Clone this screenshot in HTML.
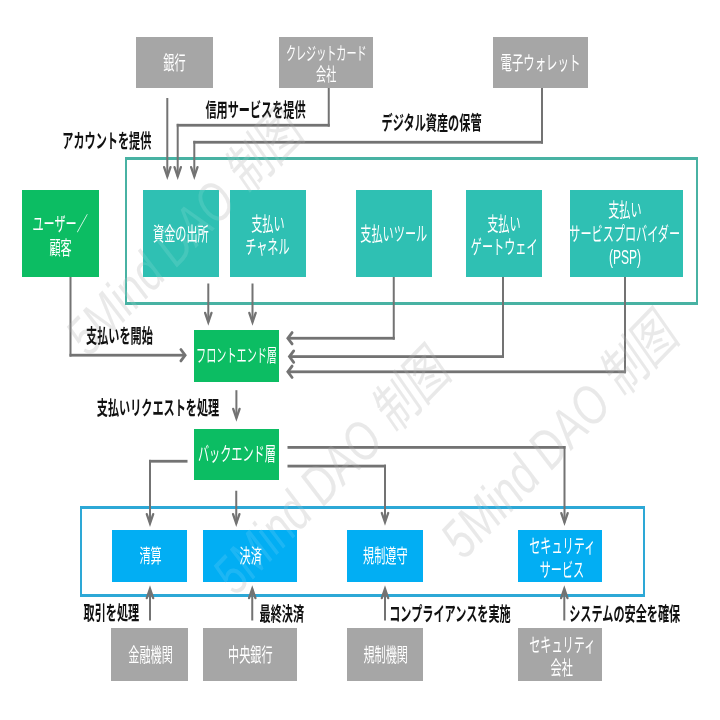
<!DOCTYPE html>
<html lang="ja"><head><meta charset="utf-8"><title>決済システム構成図</title>
<style>
html,body{margin:0;padding:0;background:#fff}
body{width:720px;height:720px;position:relative;overflow:hidden;font-family:"Liberation Sans",sans-serif;filter:blur(0.45px)}
.bx{position:absolute;display:flex;align-items:center;justify-content:center;text-align:center}
.bx span,.lb{color:transparent;font-size:11px;line-height:23px;white-space:nowrap}
.lb{position:absolute;font-weight:bold}
.wm{position:absolute;color:transparent;font-size:12px;font-style:italic;white-space:nowrap;transform:rotate(-46deg)}
.ct{position:absolute;border-style:solid;box-sizing:content-box}
svg{position:absolute;left:0;top:0}
svg text{font-family:"Liberation Sans","Noto Sans CJK JP",sans-serif}
svg text.wmt{font-family:"Liberation Sans","Noto Sans CJK SC",sans-serif;font-style:italic}
</style></head><body>
<svg width="720" height="720" viewBox="0 0 720 720">
<defs>
<g id="wmk"><text class="wmt" transform="translate(88.69 358.10) rotate(-45.75) scale(0.764 1)" font-size="54.6">5Mind DAO 制图</text><text class="wmt" transform="translate(235.69 597.10) rotate(-45.75) scale(0.764 1)" font-size="54.6">5Mind DAO 制图</text><text class="wmt" transform="translate(463.69 561.10) rotate(-45.75) scale(0.764 1)" font-size="54.6">5Mind DAO 制图</text></g>
</defs>
<use href="#wmk" fill="#000" fill-opacity="0.095"/>
</svg>
<div class="ct" style="left:124.75px;top:157.00px;width:568.75px;height:142.25px;border-color:#48b2a3;border-width:3.50px 2.50px"></div>
<div class="ct" style="left:80.00px;top:505.75px;width:560.50px;height:85.60px;border-color:#2da8d6;border-width:3.50px 2.50px"></div>
<div class="bx" style="left:136.25px;top:37.00px;width:76.25px;height:51.00px;background:#a6a6a6"><span>銀行</span></div>
<div class="bx" style="left:278.75px;top:37.00px;width:94.25px;height:51.00px;background:#a6a6a6"><span>クレジットカード<br>会社</span></div>
<div class="bx" style="left:493.25px;top:37.00px;width:94.75px;height:51.00px;background:#a6a6a6"><span>電子ウォレット</span></div>
<div class="bx" style="left:22.30px;top:190.00px;width:76.50px;height:87.00px;background:#0cbd63"><span>ユーザー／<br>顧客</span></div>
<div class="bx" style="left:143.10px;top:190.00px;width:75.80px;height:87.00px;background:#2fc0b3"><span>資金の出所</span></div>
<div class="bx" style="left:230.00px;top:190.00px;width:75.50px;height:87.00px;background:#2fc0b3"><span>支払い<br>チャネル</span></div>
<div class="bx" style="left:355.50px;top:190.00px;width:76.50px;height:87.00px;background:#2fc0b3"><span>支払いツール</span></div>
<div class="bx" style="left:466.00px;top:190.00px;width:75.50px;height:87.00px;background:#2fc0b3"><span>支払い<br>ゲートウェイ</span></div>
<div class="bx" style="left:569.50px;top:190.00px;width:113.10px;height:87.00px;background:#2fc0b3"><span>支払い<br>サービスプロバイダー<br>(PSP)</span></div>
<div class="bx" style="left:193.75px;top:329.50px;width:84.75px;height:52.25px;background:#0cbd63"><span>フロントエンド層</span></div>
<div class="bx" style="left:193.75px;top:428.60px;width:84.75px;height:51.70px;background:#0cbd63"><span>バックエンド層</span></div>
<div class="bx" style="left:111.50px;top:529.50px;width:75.60px;height:52.00px;background:#02aef3"><span>清算</span></div>
<div class="bx" style="left:203.00px;top:529.50px;width:94.00px;height:52.00px;background:#02aef3"><span>決済</span></div>
<div class="bx" style="left:347.00px;top:529.50px;width:75.50px;height:52.00px;background:#02aef3"><span>規制遵守</span></div>
<div class="bx" style="left:517.60px;top:529.50px;width:84.40px;height:52.00px;background:#02aef3"><span>セキュリティ<br>サービス</span></div>
<div class="bx" style="left:111.25px;top:628.00px;width:76.25px;height:52.50px;background:#a6a6a6"><span>金融機関</span></div>
<div class="bx" style="left:203.00px;top:628.00px;width:94.00px;height:52.50px;background:#a6a6a6"><span>中央銀行</span></div>
<div class="bx" style="left:347.00px;top:628.00px;width:76.00px;height:52.50px;background:#a6a6a6"><span>規制機関</span></div>
<div class="bx" style="left:517.50px;top:628.00px;width:84.50px;height:52.50px;background:#a6a6a6"><span>セキュリティ<br>会社</span></div>
<div class="lb" style="left:63.50px;top:128.25px">アカウントを提供</div>
<div class="lb" style="left:205.50px;top:97.70px">信用サービスを提供</div>
<div class="lb" style="left:382.30px;top:110.80px">デジタル資産の保管</div>
<div class="lb" style="left:86.25px;top:323.20px">支払いを開始</div>
<div class="lb" style="left:97.00px;top:395.75px">支払いリクエストを処理</div>
<div class="lb" style="left:83.75px;top:600.75px">取引を処理</div>
<div class="lb" style="left:260.00px;top:601.50px">最終決済</div>
<div class="lb" style="left:390.75px;top:602.00px">コンプライアンスを実施</div>
<div class="lb" style="left:570.00px;top:602.00px">システムの安全を確保</div>
<div class="wm" style="left:151px;top:214px">5Mind DAO 制图</div>
<div class="wm" style="left:291px;top:460px">5Mind DAO 制图</div>
<div class="wm" style="left:519px;top:424px">5Mind DAO 制图</div>
<svg width="720" height="720" viewBox="0 0 720 720">
<g fill="#737373"><rect x="166.30" y="98.00" width="2.00" height="78.50"/><path d="M164.10 167.20 L167.30 176.50 L170.50 167.20" fill="none" stroke="#737373" stroke-width="2.3" stroke-linejoin="miter" stroke-linecap="round"/><rect x="327.75" y="88.00" width="2.00" height="38.65"/><rect x="176.70" y="123.85" width="153.05" height="2.80"/><rect x="176.70" y="123.85" width="2.00" height="52.65"/><path d="M174.50 167.20 L177.70 176.50 L180.90 167.20" fill="none" stroke="#737373" stroke-width="2.3" stroke-linejoin="miter" stroke-linecap="round"/><rect x="541.00" y="88.00" width="2.00" height="55.65"/><rect x="193.30" y="140.85" width="349.70" height="2.80"/><rect x="193.30" y="140.85" width="2.00" height="35.65"/><path d="M191.10 167.20 L194.30 176.50 L197.50 167.20" fill="none" stroke="#737373" stroke-width="2.3" stroke-linejoin="miter" stroke-linecap="round"/><rect x="69.50" y="277.00" width="2.00" height="79.60"/><rect x="69.50" y="353.80" width="115.65" height="2.80"/><path d="M180.90 349.50 L185.15 355.20 L180.90 360.90" fill="none" stroke="#737373" stroke-width="2.8" stroke-linejoin="miter" stroke-linecap="round"/><rect x="207.30" y="283.50" width="2.00" height="38.70"/><path d="M205.10 312.90 L208.30 322.20 L211.50 312.90" fill="none" stroke="#737373" stroke-width="2.3" stroke-linejoin="miter" stroke-linecap="round"/><rect x="251.50" y="283.50" width="2.00" height="38.70"/><path d="M249.30 312.90 L252.50 322.20 L255.70 312.90" fill="none" stroke="#737373" stroke-width="2.3" stroke-linejoin="miter" stroke-linecap="round"/><rect x="392.75" y="277.00" width="2.00" height="62.65"/><rect x="287.85" y="336.85" width="106.90" height="2.80"/><path d="M292.10 332.55 L287.85 338.25 L292.10 343.95" fill="none" stroke="#737373" stroke-width="2.8" stroke-linejoin="miter" stroke-linecap="round"/><rect x="502.00" y="277.00" width="2.00" height="81.00"/><rect x="289.45" y="355.20" width="214.55" height="2.80"/><path d="M293.70 350.90 L289.45 356.60 L293.70 362.30" fill="none" stroke="#737373" stroke-width="2.8" stroke-linejoin="miter" stroke-linecap="round"/><rect x="624.00" y="277.00" width="2.00" height="96.20"/><rect x="287.85" y="370.40" width="338.15" height="2.80"/><path d="M292.10 366.10 L287.85 371.80 L292.10 377.50" fill="none" stroke="#737373" stroke-width="2.8" stroke-linejoin="miter" stroke-linecap="round"/><rect x="235.40" y="390.20" width="2.00" height="28.00"/><path d="M233.20 408.90 L236.40 418.20 L239.60 408.90" fill="none" stroke="#737373" stroke-width="2.3" stroke-linejoin="miter" stroke-linecap="round"/><rect x="149.00" y="459.85" width="38.50" height="2.80"/><rect x="149.00" y="459.85" width="2.00" height="63.65"/><path d="M146.80 514.20 L150.00 523.50 L153.20 514.20" fill="none" stroke="#737373" stroke-width="2.3" stroke-linejoin="miter" stroke-linecap="round"/><rect x="235.25" y="490.75" width="2.00" height="32.75"/><path d="M233.05 514.20 L236.25 523.50 L239.45 514.20" fill="none" stroke="#737373" stroke-width="2.3" stroke-linejoin="miter" stroke-linecap="round"/><rect x="287.50" y="464.70" width="98.50" height="2.80"/><rect x="384.00" y="464.70" width="2.00" height="57.60"/><path d="M381.80 513.00 L385.00 522.30 L388.20 513.00" fill="none" stroke="#737373" stroke-width="2.3" stroke-linejoin="miter" stroke-linecap="round"/><rect x="287.50" y="446.00" width="278.00" height="2.80"/><rect x="563.50" y="446.00" width="2.00" height="76.50"/><path d="M561.30 513.20 L564.50 522.50 L567.70 513.20" fill="none" stroke="#737373" stroke-width="2.3" stroke-linejoin="miter" stroke-linecap="round"/><rect x="149.00" y="588.80" width="2.00" height="31.70"/><path d="M146.80 598.10 L150.00 588.80 L153.20 598.10" fill="none" stroke="#737373" stroke-width="2.3" stroke-linejoin="miter" stroke-linecap="round"/><rect x="251.25" y="588.80" width="2.00" height="31.70"/><path d="M249.05 598.10 L252.25 588.80 L255.45 598.10" fill="none" stroke="#737373" stroke-width="2.3" stroke-linejoin="miter" stroke-linecap="round"/><rect x="384.00" y="588.80" width="2.00" height="31.70"/><path d="M381.80 598.10 L385.00 588.80 L388.20 598.10" fill="none" stroke="#737373" stroke-width="2.3" stroke-linejoin="miter" stroke-linecap="round"/><rect x="563.30" y="588.80" width="2.00" height="31.70"/><path d="M561.10 598.10 L564.30 588.80 L567.50 598.10" fill="none" stroke="#737373" stroke-width="2.3" stroke-linejoin="miter" stroke-linecap="round"/></g>
<text transform="translate(163.37 70.00) scale(0.5626 1)" font-size="19.8" fill="#fff">銀行</text>
<text transform="translate(285.95 60.15) scale(0.5624 1)" font-size="17.94" fill="#fff">クレジットカード</text>
<text transform="translate(316.06 81.44) scale(0.5624 1)" font-size="17.94" fill="#fff">会社</text>
<text transform="translate(500.54 70.40) scale(0.5758 1)" font-size="19.8" fill="#fff">電子ウォレット</text>
<text transform="translate(32.46 231.45) scale(0.5626 1)" font-size="19.8" fill="#fff">ユーザー／</text>
<text transform="translate(49.46 254.95) scale(0.5626 1)" font-size="19.8" fill="#fff">顧客</text>
<text transform="translate(153.10 241.20) scale(0.5626 1)" font-size="19.8" fill="#fff">資金の出所</text>
<text transform="translate(251.24 230.75) scale(0.5626 1)" font-size="19.8" fill="#fff">支払い</text>
<text transform="translate(245.23 254.25) scale(0.5626 1)" font-size="19.8" fill="#fff">チャネル</text>
<text transform="translate(360.37 241.30) scale(0.5626 1)" font-size="19.8" fill="#fff">支払いツール</text>
<text transform="translate(487.24 230.75) scale(0.5626 1)" font-size="19.8" fill="#fff">支払い</text>
<text transform="translate(470.79 254.25) scale(0.5626 1)" font-size="19.8" fill="#fff">ゲートウェイ</text>
<text transform="translate(608.24 217.00) scale(0.5626 1)" font-size="19.8" fill="#fff">支払い</text>
<text transform="translate(569.26 240.50) scale(0.5626 1)" font-size="19.8" fill="#fff">サービスプロバイダー</text>
<text transform="translate(608.98 264.00) scale(0.6091 1)" font-size="19.8" fill="#fff">(PSP)</text>
<text transform="translate(196.06 362.25) scale(0.5622 1)" font-size="18" fill="#fff">フロントエンド層</text>
<text transform="translate(197.94 461.15) scale(0.5626 1)" font-size="19.8" fill="#fff">バックエンド層</text>
<text transform="translate(139.45 562.80) scale(0.5626 1)" font-size="19.8" fill="#fff">清算</text>
<text transform="translate(239.62 562.80) scale(0.5626 1)" font-size="19.8" fill="#fff">決済</text>
<text transform="translate(363.10 562.80) scale(0.5626 1)" font-size="19.8" fill="#fff">規制遵守</text>
<text transform="translate(529.22 552.90) scale(0.5626 1)" font-size="19.8" fill="#fff">セキュリティ</text>
<text transform="translate(539.69 576.70) scale(0.5626 1)" font-size="19.8" fill="#fff">サービス</text>
<text transform="translate(128.37 661.75) scale(0.5626 1)" font-size="19.8" fill="#fff">金融機関</text>
<text transform="translate(228.04 661.75) scale(0.5626 1)" font-size="19.8" fill="#fff">中央銀行</text>
<text transform="translate(363.49 661.75) scale(0.5626 1)" font-size="19.8" fill="#fff">規制機関</text>
<text transform="translate(529.17 651.65) scale(0.5626 1)" font-size="19.8" fill="#fff">セキュリティ</text>
<text transform="translate(550.58 675.45) scale(0.5626 1)" font-size="19.8" fill="#fff">会社</text>
<text transform="translate(62.32 147.50) scale(0.5626 1)" font-size="19.8" font-weight="bold" fill="#111111">アカウントを提供</text>
<text transform="translate(205.41 116.95) scale(0.5626 1)" font-size="19.8" font-weight="bold" fill="#111111">信用サービスを提供</text>
<text transform="translate(381.58 130.05) scale(0.5626 1)" font-size="19.8" font-weight="bold" fill="#111111">デジタル資産の保管</text>
<text transform="translate(86.00 342.70) scale(0.5626 1)" font-size="19.8" font-weight="bold" fill="#111111">支払いを開始</text>
<text transform="translate(96.75 415.00) scale(0.5626 1)" font-size="19.8" font-weight="bold" fill="#111111">支払いリクエストを処理</text>
<text transform="translate(83.58 620.00) scale(0.5626 1)" font-size="19.8" font-weight="bold" fill="#111111">取引を処理</text>
<text transform="translate(259.55 620.75) scale(0.5626 1)" font-size="19.8" font-weight="bold" fill="#111111">最終決済</text>
<text transform="translate(389.24 621.00) scale(0.5626 1)" font-size="19.8" font-weight="bold" fill="#111111">コンプライアンスを実施</text>
<text transform="translate(569.23 621.00) scale(0.5626 1)" font-size="19.8" font-weight="bold" fill="#111111">システムの安全を確保</text>
<use href="#wmk" fill="#fff" fill-opacity="0.11"/>
</svg>
</body></html>
